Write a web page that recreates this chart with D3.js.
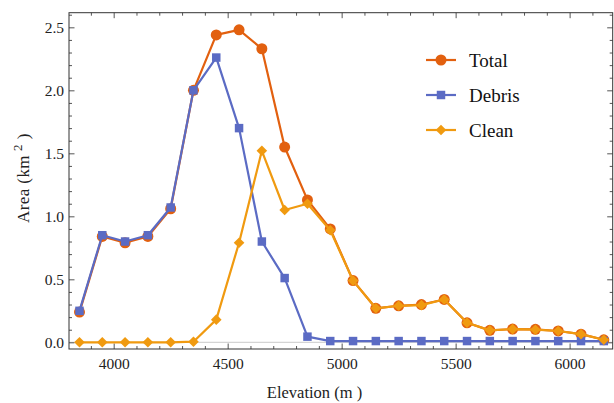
<!DOCTYPE html>
<html>
<head>
<meta charset="utf-8">
<script src="https://cdn.jsdelivr.net/npm/d3@7"></script>
<style>
  body { margin: 0; background: #fff; }
  svg { display: block; }
</style>
</head>
<body>
<div id="chart"></div>
<script>
// elevation bands (m) and area per band (km^2)
var elevation = [3850, 3950, 4050, 4150, 4250, 4350, 4450, 4550, 4650, 4750, 4850, 4950,
                 5050, 5150, 5250, 5350, 5450, 5550, 5650, 5750, 5850, 5950, 6050, 6150];
var total  = [0.24, 0.84, 0.79, 0.84, 1.06, 2.00, 2.44, 2.48, 2.33, 1.55, 1.13, 0.90,
              0.49, 0.27, 0.29, 0.30, 0.34, 0.155, 0.095, 0.105, 0.103, 0.09, 0.065, 0.02];
var debris = [0.25, 0.85, 0.80, 0.85, 1.07, 2.00, 2.26, 1.70, 0.80, 0.51, 0.045, 0.01,
              0.01, 0.01, 0.01, 0.01, 0.01, 0.01, 0.01, 0.01, 0.01, 0.01, 0.01, 0.01];
var clean  = [0, 0, 0, 0, 0, 0.005, 0.18, 0.79, 1.52, 1.05, 1.10, 0.89,
              0.49, 0.27, 0.29, 0.295, 0.34, 0.155, 0.095, 0.105, 0.10, 0.09, 0.065, 0.02];
var seriesNames = ["Total", "Debris", "Clean"];
var colors = ["#e2600f", "#5b6bc4", "#f09a10"];
var xMajor = [4000, 4500, 5000, 5500, 6000];
var yMajor = [0, 0.5, 1.0, 1.5, 2.0, 2.5];

var W = 614, H = 403;
var margin = { top: 12.7, right: 1.3, bottom: 54, left: 69 };
var width = W - margin.left - margin.right;
var height = H - margin.top - margin.bottom;
var serif = "'Liberation Serif', 'Times New Roman', serif";

var svg = d3.select("#chart").append("svg")
    .attr("width", W)
    .attr("height", H);

var g = svg.append("g")
    .attr("transform", "translate(" + margin.left + "," + margin.top + ")");

var x = d3.scaleLinear().domain([3804, 6189]).range([0, width]);
var y = d3.scaleLinear().domain([-0.053, 2.616]).range([height, 0]);

var xMinor = d3.range(3900, 6200, 100).filter(function(v) { return xMajor.indexOf(v) < 0; });
var yMinor = d3.range(1, 27).map(function(i) { return i / 10; })
    .filter(function(v) { return yMajor.indexOf(Math.round(v * 10) / 10) < 0; });

// zero line
g.append("line")
    .attr("x1", 0).attr("x2", width)
    .attr("y1", y(0)).attr("y2", y(0))
    .style("stroke", "#d4d4d4")
    .style("stroke-width", 1.2);

// frame ticks (inward) on all four sides
function frameAxis(axis, transform, vals, size, labels, pad) {
    var a = g.append("g")
        .attr("transform", transform)
        .call(axis.tickValues(vals).tickSizeInner(size).tickSizeOuter(0)
            .tickPadding(pad || 0)
            .tickFormat(labels ? labels : ""));
    a.select(".domain").remove();
    a.selectAll(".tick line").style("stroke", "#555");
    a.selectAll(".tick text")
        .style("font-family", serif)
        .style("font-size", "15.5px")
        .style("fill", "#222");
    return a;
}
frameAxis(d3.axisBottom(x), "translate(0," + height + ")", xMajor, -5.5, d3.format("d"), 8.5);
frameAxis(d3.axisBottom(x), "translate(0," + height + ")", xMinor, -3, null);
frameAxis(d3.axisTop(x), "translate(0,0)", xMajor, -5.5, null);
frameAxis(d3.axisTop(x), "translate(0,0)", xMinor, -3, null);
frameAxis(d3.axisLeft(y), "translate(0,0)", yMajor, -5.5, d3.format(".1f"), 5);
frameAxis(d3.axisLeft(y), "translate(0,0)", yMinor, -3, null);
frameAxis(d3.axisRight(y), "translate(" + width + ",0)", yMajor, -5.5, null);
frameAxis(d3.axisRight(y), "translate(" + width + ",0)", yMinor, -3, null);

// frame
g.append("rect")
    .attr("width", width).attr("height", height)
    .style("fill", "none")
    .style("stroke", "#333")
    .style("stroke-width", 1);

var line = d3.line()
    .x(function(d) { return x(d[0]); })
    .y(function(d) { return y(d[1]); });

var data = [total, debris, clean].map(function(vals) {
    return vals.map(function(v, i) { return [elevation[i], v]; });
});

function drawMarker(sel, k, size) {
    if (k === 0) {
        sel.append("circle").attr("r", size).style("fill", colors[k]);
    } else if (k === 1) {
        sel.append("rect")
            .attr("x", -size * 0.8).attr("y", -size * 0.8)
            .attr("width", size * 1.6).attr("height", size * 1.6)
            .style("fill", colors[k]);
    } else {
        sel.append("path")
            .attr("d", "M0," + (-size) + "L" + size + ",0L0," + size + "L" + (-size) + ",0Z")
            .style("fill", colors[k]);
    }
}

data.forEach(function(d, k) {
    g.append("path")
        .datum(d)
        .attr("d", line)
        .style("fill", "none")
        .style("stroke", colors[k])
        .style("stroke-width", 2.2)
        .style("stroke-linejoin", "round");

    g.selectAll(".m" + k)
        .data(d)
        .enter().append("g")
        .attr("class", "m" + k)
        .attr("transform", function(p) { return "translate(" + x(p[0]) + "," + y(p[1]) + ")"; })
        .each(function() { drawMarker(d3.select(this), k, k === 0 ? 5.5 : 5.3); });
});

// legend
var legend = svg.append("g");
seriesNames.forEach(function(name, k) {
    var ly = 60 + k * 35;
    legend.append("line")
        .attr("x1", 426).attr("x2", 456)
        .attr("y1", ly).attr("y2", ly)
        .style("stroke", colors[k])
        .style("stroke-width", 2.2);
    var m = legend.append("g").attr("transform", "translate(441," + ly + ")");
    drawMarker(m, k, k === 0 ? 5.5 : 5.3);
    legend.append("text")
        .attr("x", 469).attr("y", ly + 6.5)
        .style("font-family", serif)
        .style("font-size", "19px")
        .style("fill", "#111")
        .text(name);
});

// axis titles
svg.append("text")
    .attr("x", 314.5)
    .attr("y", 398)
    .attr("text-anchor", "middle")
    .style("font-family", serif)
    .style("font-size", "16.5px")
    .style("fill", "#222")
    .text("Elevation (m )");

var yt = svg.append("text")
    .attr("transform", "translate(28.5,178) rotate(-90)")
    .attr("text-anchor", "middle")
    .style("font-family", serif)
    .style("font-size", "17px")
    .style("letter-spacing", "0.4px")
    .style("fill", "#222");
yt.append("tspan").text("Area (km");
yt.append("tspan").attr("dx", 4).attr("dy", -7).style("font-size", "13px").text("2");
yt.append("tspan").attr("dx", 5).attr("dy", 7).text(")");
</script>
</body>
</html>
